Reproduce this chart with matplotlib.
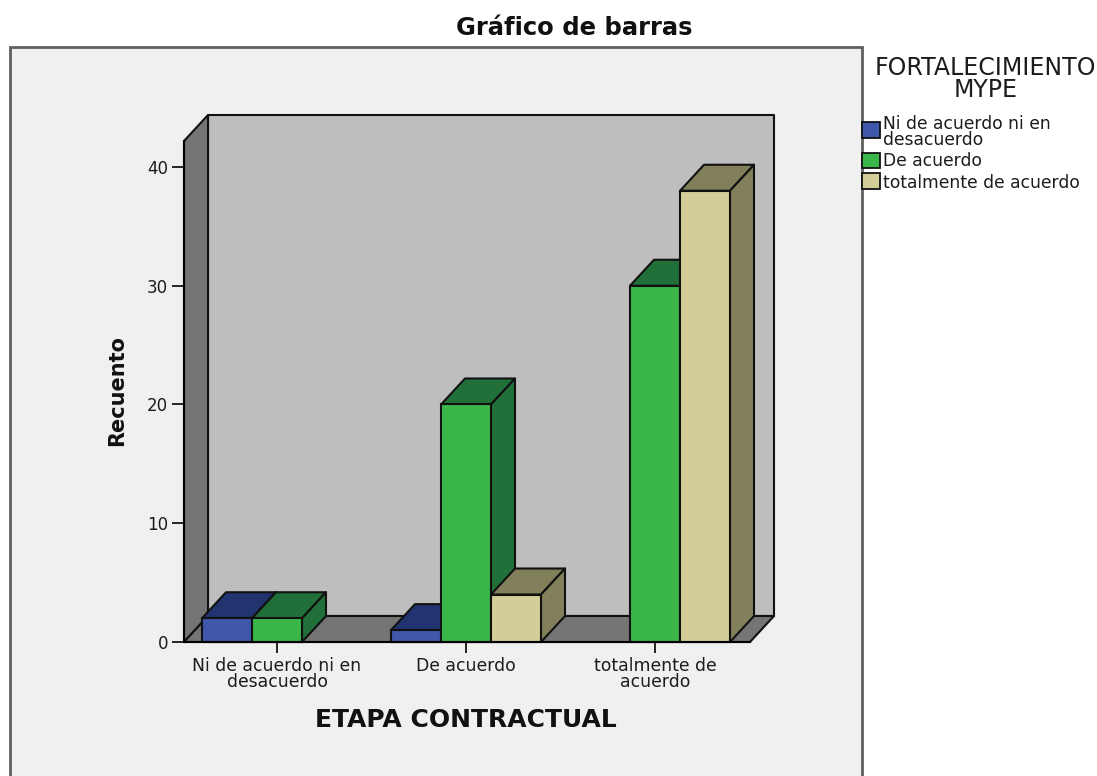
import matplotlib
matplotlib.use("Agg")
import matplotlib.pyplot as plt
from matplotlib.patches import Polygon, Rectangle

W, H = 1097, 776

title = "Gráfico de barras"
x_title = "ETAPA CONTRACTUAL"
y_title = "Recuento"
legend_title = "FORTALECIMIENTO\nMYPE"
categories = ["Ni de acuerdo ni en\ndesacuerdo", "De acuerdo", "totalmente de\nacuerdo"]
series_names = ["Ni de acuerdo ni en\ndesacuerdo", "De acuerdo", "totalmente de acuerdo"]
neutral = [2, 1, 0]
agree = [2, 20, 30]
strong = [0, 4, 38]
y_ticks = [0, 10, 20, 30, 40]

front = ["#3F58AB", "#3BB64B", "#D3CE97"]
shade = ["#21346F", "#227039", "#82805A"]

plt.rcParams["font.family"] = ["DejaVu Sans"]
fig = plt.figure(figsize=(W / 100, H / 100), dpi=100, facecolor="white")


def fx(px):
    return px / W


def fy(py):
    return 1 - py / H


# outer chart panel (runs off the bottom of the image)
fig.add_artist(Rectangle((fx(10), fy(790)), (862 - 10) / W, (790 - 47) / H,
                         transform=fig.transFigure, facecolor="#F0F0F0",
                         edgecolor="#606060", linewidth=2, zorder=-5))

ax = fig.add_axes([fx(184), fy(642), (750 - 184) / W, (642 - 141) / H])
ax.set_zorder(1)
ax.patch.set_visible(False)
px_per_x = 189
px_per_y = 11.875
ax.set_xlim(-0.4921, -0.4921 + 566 / px_per_x)
ax.set_ylim(0, 501 / px_per_y)
dx = 24 / px_per_x
dy = 26 / px_per_y
x0, x1 = ax.get_xlim()
y1 = ax.get_ylim()[1]
EC = "#111111"
LW = 1.5


def poly(points, color, z):
    ax.add_patch(Polygon(points, closed=True, facecolor=color, edgecolor=EC,
                         linewidth=LW, joinstyle="round", clip_on=False, zorder=z))


# back wall, left wall, floor
poly([(x0 + dx, dy), (x1 + dx, dy), (x1 + dx, y1 + dy), (x0 + dx, y1 + dy)], "#BEBEBE", 1)
poly([(x0, 0), (x0 + dx, dy), (x0 + dx, y1 + dy), (x0, y1)], "#757575", 1.1)
poly([(x0, 0), (x1, 0), (x1 + dx, dy), (x0 + dx, dy)], "#757575", 1.2)

# 3D bars
bar_w = 50 / px_per_x
z = 2.0
for i in range(len(categories)):
    for j, values in enumerate([neutral, agree, strong]):
        v = values[i]
        if v == 0:
            continue
        left = i + (j - 1.5) * bar_w
        right = left + bar_w
        poly([(left, v), (right, v), (right + dx, v + dy), (left + dx, v + dy)], shade[j], z)
        poly([(right, 0), (right + dx, dy), (right + dx, v + dy), (right, v)], shade[j], z + 0.01)
        ax.add_patch(Rectangle((left, 0), bar_w, v, facecolor=front[j], edgecolor=EC,
                               linewidth=LW, clip_on=False, zorder=z + 0.02))
        z += 0.1

for s in ["top", "right"]:
    ax.spines[s].set_visible(False)
ax.spines["left"].set_linewidth(LW)
ax.spines["bottom"].set_linewidth(LW)
ax.spines["left"].set_zorder(10)
ax.spines["bottom"].set_zorder(10)
ax.set_yticks(y_ticks)
ax.set_xticks(range(len(categories)))
ax.set_xticklabels(categories, fontsize=12.4, color="#1c1c1c", linespacing=0.9)
ax.tick_params(axis="y", length=8.6, width=1.2, labelsize=12, pad=3, labelcolor="#1c1c1c")
ax.tick_params(axis="x", length=8.0, width=1.2, pad=2.5)

fig.text(fx(574), fy(28), title, ha="center", va="center", fontsize=17.5,
         fontweight="bold", color="#111111")
fig.text(fx(466), fy(720), x_title, ha="center", va="center", fontsize=18,
         fontweight="bold", color="#111111")
fig.text(fx(117), fy(391), y_title, ha="center", va="center", rotation=90, fontsize=15,
         fontweight="bold", color="#111111")
fig.text(fx(985.5), fy(79), legend_title, ha="center", va="center", fontsize=17,
         color="#1c1c1c", linespacing=0.85)

# legend
swatches = [(122, 138), (153, 168), (173, 189)]
label_y = [132, 161, 183]
for name, (top, bot), ly, c in zip(series_names, swatches, label_y, front):
    fig.add_artist(Rectangle((fx(862), fy(bot)), 18 / W, (bot - top) / H,
                             transform=fig.transFigure, facecolor=c,
                             edgecolor="#111111", linewidth=1.3, zorder=3))
    fig.text(fx(883), fy(ly), name, ha="left", va="center", fontsize=12.3,
             color="#1c1c1c", linespacing=0.85)

fig.savefig("out.png", dpi=100)
